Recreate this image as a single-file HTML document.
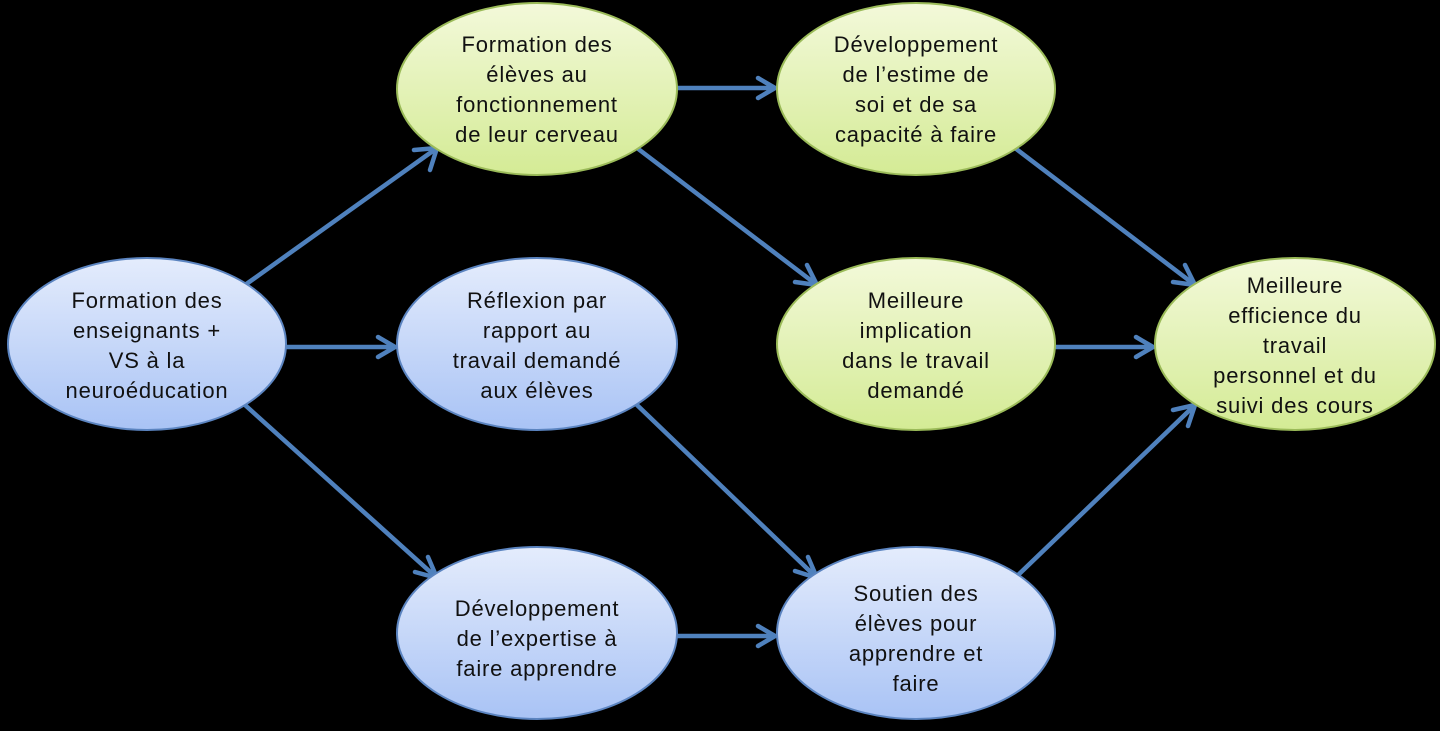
<!DOCTYPE html>
<html><head><meta charset="utf-8"><style>
html,body{margin:0;padding:0;background:#000;}
svg{display:block}
text{font-family:"Liberation Sans",sans-serif;font-size:22px;letter-spacing:0.8px;fill:#111;text-anchor:middle}
</style></head><body>
<svg width="1440" height="731" viewBox="0 0 1440 731">
<defs>
<linearGradient id="b" x1="0" y1="0" x2="0" y2="1"><stop offset="0" stop-color="#e4ecfc"/><stop offset="1" stop-color="#a9c3f5"/></linearGradient>
<linearGradient id="g" x1="0" y1="0" x2="0" y2="1"><stop offset="0" stop-color="#f3f9da"/><stop offset="1" stop-color="#d4eb95"/></linearGradient>
</defs>
<g stroke="#4f81bd" stroke-width="4.5" fill="none" stroke-linecap="round" stroke-linejoin="round">
<path d="M245,285L437,148M414,150L437,148L430,170"/>
<path d="M287,347L395,347M378,337L395,347L378,357"/>
<path d="M245,405L437,578M428,557L437,578L415,572"/>
<path d="M677,88L775,88M758,78L775,88L758,98"/>
<path d="M637,148L817,285M795,282L817,285L807,265"/>
<path d="M637,405L817,578M808,557L817,578L795,571"/>
<path d="M677,636L775,636M758,626L775,636L758,646"/>
<path d="M1015,148L1195,285M1173,282L1195,285L1185,265"/>
<path d="M1055,347L1153,347M1136,337L1153,347L1136,357"/>
<path d="M1015,578L1195,405M1173,410L1195,405L1188,426"/>
</g>
<g stroke-width="2">
<ellipse cx="147" cy="344" rx="139" ry="86" fill="url(#b)" stroke="#5b84c0"/>
<ellipse cx="537" cy="89" rx="140" ry="86" fill="url(#g)" stroke="#9bbb59"/>
<ellipse cx="537" cy="344" rx="140" ry="86" fill="url(#b)" stroke="#5b84c0"/>
<ellipse cx="537" cy="633" rx="140" ry="86" fill="url(#b)" stroke="#5b84c0"/>
<ellipse cx="916" cy="89" rx="139" ry="86" fill="url(#g)" stroke="#9bbb59"/>
<ellipse cx="916" cy="344" rx="139" ry="86" fill="url(#g)" stroke="#9bbb59"/>
<ellipse cx="916" cy="633" rx="139" ry="86" fill="url(#b)" stroke="#5b84c0"/>
<ellipse cx="1295" cy="344" rx="140" ry="86" fill="url(#g)" stroke="#9bbb59"/>
</g>
<text x="147" y="308">Formation des</text><text x="147" y="338">enseignants +</text><text x="147" y="368">VS à la</text><text x="147" y="398">neuroéducation</text>
<text x="537" y="52">Formation des</text><text x="537" y="82">élèves au</text><text x="537" y="112">fonctionnement</text><text x="537" y="142">de leur cerveau</text>
<text x="537" y="308">Réflexion par</text><text x="537" y="338">rapport au</text><text x="537" y="368">travail demandé</text><text x="537" y="398">aux élèves</text>
<text x="537" y="616">Développement</text><text x="537" y="646">de l’expertise à</text><text x="537" y="676">faire apprendre</text>
<text x="916" y="52">Développement</text><text x="916" y="82">de l’estime de</text><text x="916" y="112">soi et de sa</text><text x="916" y="142">capacité à faire</text>
<text x="916" y="308">Meilleure</text><text x="916" y="338">implication</text><text x="916" y="368">dans le travail</text><text x="916" y="398">demandé</text>
<text x="916" y="601">Soutien des</text><text x="916" y="631">élèves pour</text><text x="916" y="661">apprendre et</text><text x="916" y="691">faire</text>
<text x="1295" y="293">Meilleure</text><text x="1295" y="323">efficience du</text><text x="1295" y="353">travail</text><text x="1295" y="383">personnel et du</text><text x="1295" y="413">suivi des cours</text>
</svg>
</body></html>
